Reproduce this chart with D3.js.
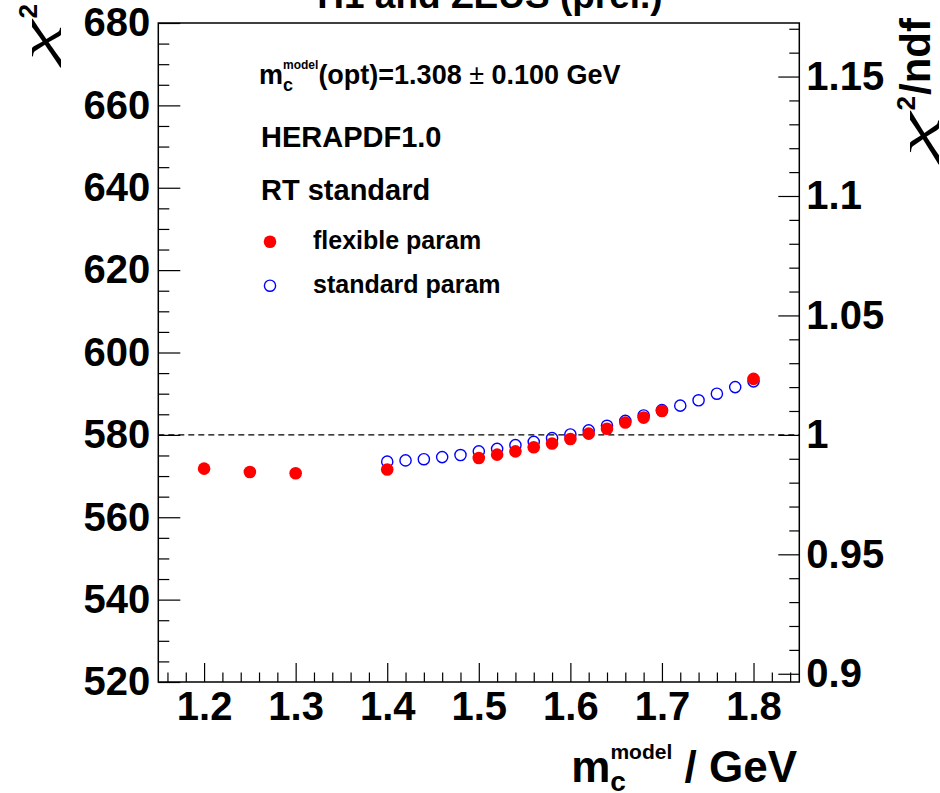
<!DOCTYPE html>
<html>
<head>
<meta charset="utf-8">
<script src="https://cdn.jsdelivr.net/npm/d3@7"></script>
<style>
  body { margin: 0; background: #fff; }
  svg text { font-family: "Liberation Sans", Arial, sans-serif; font-weight: bold; }
</style>
</head>
<body>
<div id="chart"></div>
<script>
// flexible param (filled red)
const flexMass = [1.2, 1.25, 1.3, 1.4, 1.5, 1.52, 1.54, 1.56, 1.58, 1.6, 1.62, 1.64, 1.66, 1.68, 1.7, 1.8];
const flexChi2 = [571.8, 571.0, 570.7, 571.6, 574.4, 575.2, 576.0, 577.0, 577.9, 579.0, 580.3, 581.5, 583.0, 584.2, 585.8, 593.6];

// standard param (open blue)
const stdMass = [1.4, 1.42, 1.44, 1.46, 1.48, 1.5, 1.52, 1.54, 1.56, 1.58, 1.6, 1.62, 1.64, 1.66, 1.68, 1.7, 1.72, 1.74, 1.76, 1.78, 1.8];
const stdChi2 = [573.5, 573.8, 574.1, 574.6, 575.1, 576.0, 576.6, 577.5, 578.3, 579.2, 580.1, 581.1, 582.2, 583.4, 584.7, 586.0, 587.1, 588.4, 590.0, 591.6, 593.0];

// tick labels
const xTicks = [1.2, 1.3, 1.4, 1.5, 1.6, 1.7, 1.8];
const yTicks = [520, 540, 560, 580, 600, 620, 640, 660, 680];
const ratioTicks = [0.9, 0.95, 1, 1.05, 1.1, 1.15];
const ratioLabels = ["0.9", "0.95", "1", "1.05", "1.1", "1.15"];
const ndf = 580;

const W = 940, H = 793;
const mLeft = 158.3, mRight = 799.3, mTop = 23, mBottom = 682;

const svg = d3.select("#chart").append("svg")
  .attr("width", W).attr("height", H);

const x = d3.scaleLinear().domain([1.15, 1.85]).range([mLeft, mRight]);
const y = d3.scaleLinear().domain([520, 680]).range([mBottom, mTop]);
const yr = d3.scaleLinear().domain([520 / ndf, 680 / ndf]).range([mBottom, mTop]);

// minor tick positions
const xMinor = d3.range(58, 93).map(d => d / 50).filter(d => !xTicks.some(t => Math.abs(t - d) < 1e-6));
const yMinor = d3.range(520, 681, 5).filter(d => d % 20 !== 0);
const rMinor = d3.range(90, 118).map(d => d / 100).filter(d => !ratioTicks.some(t => Math.abs(t - d) < 1e-6));

function styleAxis(g) {
  g.select(".domain").remove();
  g.selectAll("line").attr("stroke", "#000").attr("stroke-width", 1.2);
  g.selectAll("text")
    .attr("fill", "#000")
    .style("font-family", "'Liberation Sans', Arial, sans-serif")
    .style("font-weight", "bold")
    .style("font-size", "40px");
}

// bottom axis
svg.append("g").attr("transform", `translate(0,${mBottom})`)
  .call(d3.axisBottom(x).tickValues(xMinor).tickSizeInner(-9.5).tickSizeOuter(0).tickFormat(""))
  .call(styleAxis);
svg.append("g").attr("transform", `translate(0,${mBottom})`)
  .call(d3.axisBottom(x).tickValues(xTicks).tickSizeInner(-19).tickSizeOuter(0).tickPadding(10).tickFormat(d3.format(".1f")))
  .call(styleAxis);

// left axis
svg.append("g").attr("transform", `translate(${mLeft},0)`)
  .call(d3.axisLeft(y).tickValues(yMinor).tickSizeInner(-11).tickSizeOuter(0).tickFormat(""))
  .call(styleAxis);
svg.append("g").attr("transform", `translate(${mLeft},0)`)
  .call(d3.axisLeft(y).tickValues(yTicks).tickSizeInner(-22).tickSizeOuter(0).tickPadding(8))
  .call(styleAxis);

// right axis (chi2/ndf)
svg.append("g").attr("transform", `translate(${mRight},0)`)
  .call(d3.axisRight(yr).tickValues(rMinor).tickSizeInner(-10).tickSizeOuter(0).tickFormat(""))
  .call(styleAxis);
svg.append("g").attr("transform", `translate(${mRight},0)`)
  .call(d3.axisRight(yr).tickValues(ratioTicks).tickSizeInner(-21).tickSizeOuter(0).tickPadding(7)
    .tickFormat((d, i) => ratioLabels[i]))
  .call(styleAxis);

// frame
svg.append("rect")
  .attr("x", mLeft).attr("y", mTop)
  .attr("width", mRight - mLeft).attr("height", mBottom - mTop)
  .attr("fill", "none").attr("stroke", "#000").attr("stroke-width", 1.5);

// chi2/ndf = 1 line
svg.append("line")
  .attr("x1", mLeft).attr("x2", mRight)
  .attr("y1", y(ndf)).attr("y2", y(ndf))
  .attr("stroke", "#000").attr("stroke-width", 1.2)
  .attr("stroke-dasharray", "6,4");

// standard param
svg.append("g").selectAll("circle")
  .data(stdMass.map((m, i) => [m, stdChi2[i]]))
  .join("circle")
  .attr("cx", d => x(d[0])).attr("cy", d => y(d[1]))
  .attr("r", 5.6)
  .attr("fill", "none").attr("stroke", "#0000ff").attr("stroke-width", 1.4);

// flexible param
svg.append("g").selectAll("circle")
  .data(flexMass.map((m, i) => [m, flexChi2[i]]))
  .join("circle")
  .attr("cx", d => x(d[0])).attr("cy", d => y(d[1]))
  .attr("r", 6.3)
  .attr("fill", "#ff0000");

// title (mostly outside the canvas, as in the original)
svg.append("text")
  .attr("x", 490).attr("y", 8)
  .attr("text-anchor", "middle")
  .style("font-size", "37px")
  .text("H1 and ZEUS (prel.)");

// fit result text
const res = svg.append("text").attr("x", 259).attr("y", 84).style("font-size", "27px");
res.append("tspan").text("m");
res.append("tspan").attr("dy", 7).style("font-size", "18px").text("c");
res.append("tspan").attr("dx", -10).attr("dy", -22).style("font-size", "12px").text("model");
res.append("tspan").attr("dy", 15).text("(opt)=1.308");
res.append("tspan").style("font-weight", "normal").text(" \u00b1 ");
res.append("tspan").text("0.100 GeV");

svg.append("text").attr("x", 261).attr("y", 147).style("font-size", "29px").text("HERAPDF1.0");
svg.append("text").attr("x", 261).attr("y", 200).style("font-size", "29px").text("RT standard");

// legend
const legend = [
  { label: "flexible param", filled: true, cy: 241.7 },
  { label: "standard param", filled: false, cy: 285.7 }
];
legend.forEach(l => {
  svg.append("circle")
    .attr("cx", 270).attr("cy", l.cy)
    .attr("r", l.filled ? 6.3 : 5.6)
    .attr("fill", l.filled ? "#ff0000" : "none")
    .attr("stroke", l.filled ? "none" : "#0000ff")
    .attr("stroke-width", 1.4);
  svg.append("text")
    .attr("x", 313).attr("y", l.cy + 7)
    .style("font-size", "25px")
    .text(l.label);
});

// x axis title
const xt = svg.append("text").attr("x", 797).attr("y", 782)
  .attr("text-anchor", "end").style("font-size", "44px");
xt.append("tspan").text("m");
xt.append("tspan").attr("dy", 9).style("font-size", "28px").text("c");
xt.append("tspan").attr("dx", -15.5).attr("dy", -32).style("font-size", "21px").text("model");
xt.append("tspan").attr("dy", 23).text(" / GeV");

// rotated titles: chi drawn from a serif italic face, stretched like the ROOT symbol glyph
function chiTitle(tx, ty, rest, chiLen) {
  const g = svg.append("g").attr("transform", `translate(${tx},${ty}) rotate(-90)`);
  let pos = 0;
  if (rest) {
    const t = g.append("text").attr("x", 0).attr("text-anchor", "end")
      .style("font-size", "42px").text(rest);
    pos -= t.node().getComputedTextLength() + 1;
  }
  const two = g.append("text").attr("x", pos).attr("y", -15).attr("text-anchor", "end")
    .style("font-size", "26px").text("2");
  pos -= two.node().getComputedTextLength() + 2;
  g.append("text").attr("x", pos - chiLen).attr("y", 0)
    .attr("textLength", chiLen).attr("lengthAdjust", "spacingAndGlyphs")
    .style("font-family", "'Liberation Serif', serif").style("font-style", "italic")
    .style("font-weight", "normal")
    .style("font-size", "44px").text("\u03c7");
}
chiTitle(52, 4, null, 40);
chiTitle(930, 18, "/ndf", 44);
</script>
</body>
</html>
